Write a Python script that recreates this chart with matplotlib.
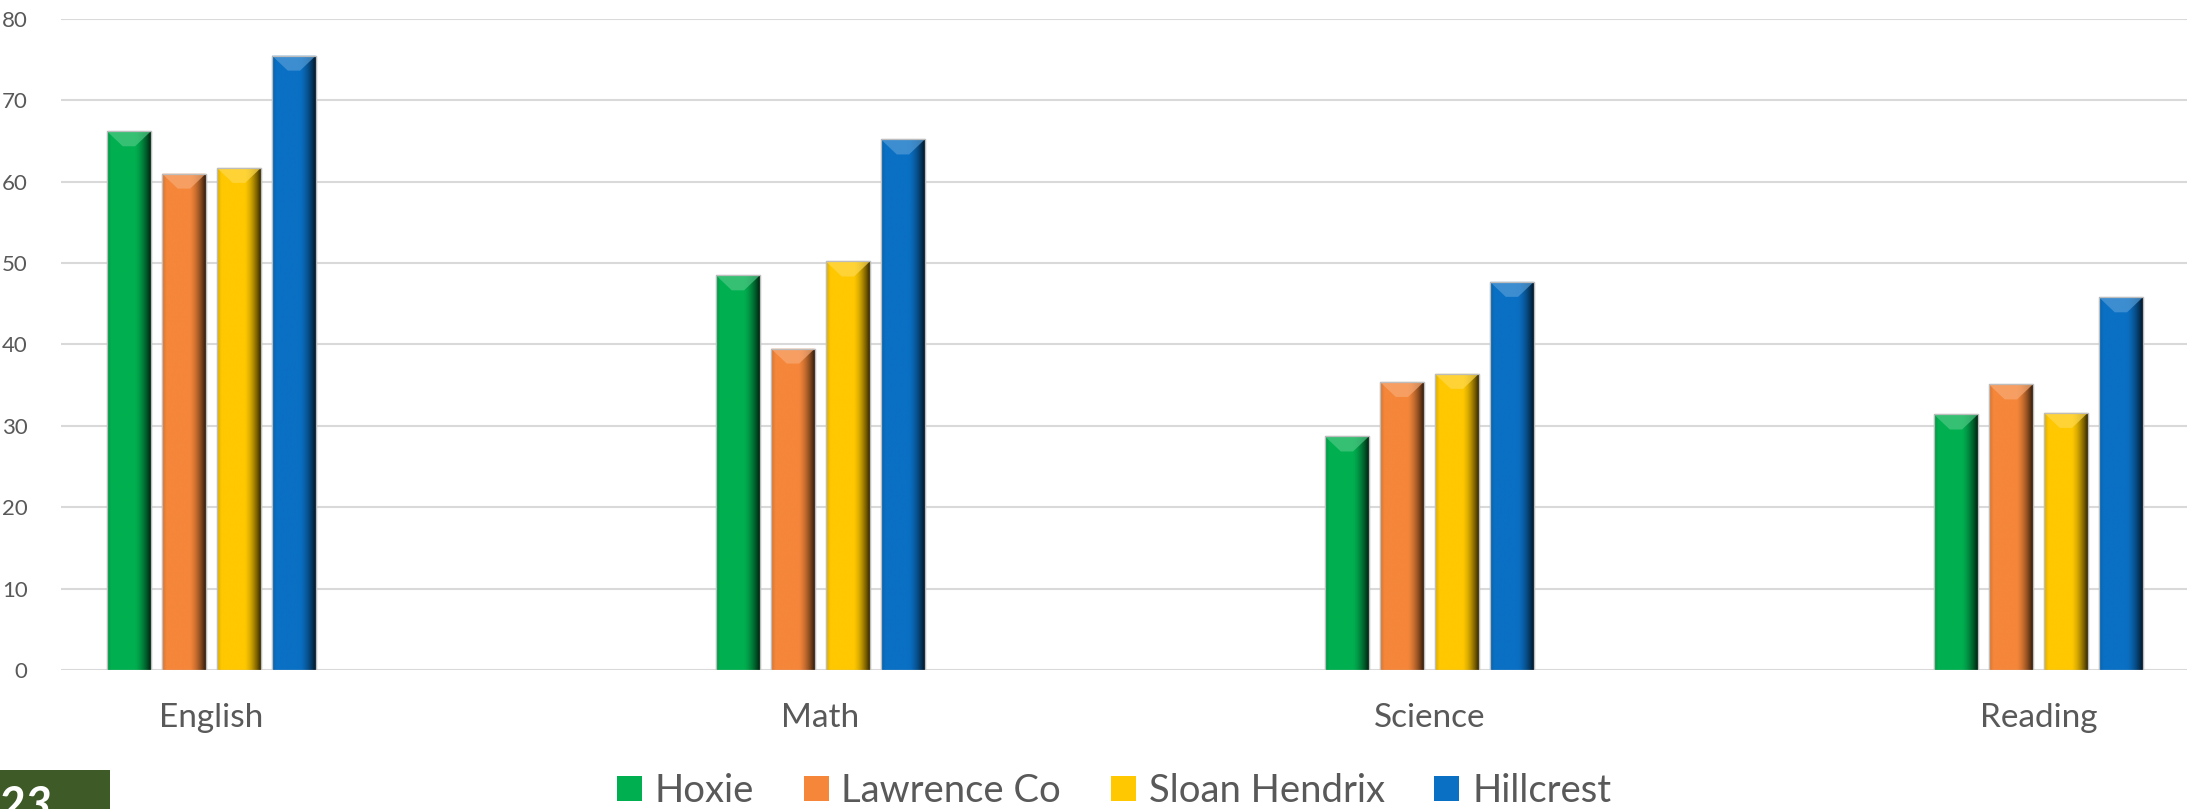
import numpy as np
import matplotlib
matplotlib.use("Agg")
import matplotlib.pyplot as plt
import matplotlib.patches as mpatches

plt.rcParams["font.family"] = ["Lato", "DejaVu Sans"]

subjects = ["English", "Math", "Science", "Reading"]
schools = ["Hoxie", "Lawrence Co", "Sloan Hendrix", "Hillcrest"]
hoxie = [66.2, 48.5, 28.7, 31.4]
lawrence = [61.0, 39.5, 35.4, 35.1]
sloan = [61.7, 50.2, 36.4, 31.6]
hillcrest = [75.5, 65.2, 47.7, 45.8]
series = [hoxie, lawrence, sloan, hillcrest]
colors = ["#00B050", "#F5863A", "#FFC800", "#0A70C4"]
yticks = [0, 10, 20, 30, 40, 50, 60, 70, 80]

W, H = 2187, 809
fig = plt.figure(figsize=(W / 100, H / 100), dpi=100)
fig.patch.set_facecolor("white")
ax = fig.add_axes([61 / W, 139 / H, (W - 61) / W, 651 / H])

x = np.arange(len(subjects))
bw = 0.072
step = 0.0903
offsets = (np.arange(len(schools)) - 1.5) * step


def shade_profile(n=120):
    t = np.linspace(0, 1, n)
    f = np.ones(n)
    left = t < 0.1
    f[left] = 0.86 + 0.14 * t[left] / 0.1
    right = t > 0.62
    f[right] = 1.0 - 0.8 * ((t[right] - 0.62) / 0.38) ** 1.6
    return f


prof = shade_profile()
bevel_px = 15
px_per_unit = 651 / 80.0

for vals, col, off, name in zip(series, colors, offsets, schools):
    bars = ax.bar(x + off, vals, width=bw, color=col, edgecolor="#C8C8C8",
                  linewidth=1.0, zorder=2, label=name)
    base = np.array(matplotlib.colors.to_rgb(col))
    img = np.clip(base[None, None, :] * prof[None, :, None], 0, 1)
    light = np.clip(base + (1 - base) * 0.3, 0, 1)
    for b in bars:
        x0, w, h = b.get_x(), b.get_width(), b.get_height()
        im = ax.imshow(img, extent=(x0, x0 + w, 0, h), aspect="auto",
                       interpolation="bilinear", zorder=2.5)
        im.set_clip_path(b)
        d = bevel_px / px_per_unit
        top = mpatches.Polygon([(x0, h), (x0 + w, h), (x0 + 0.64 * w, h - d),
                                (x0 + 0.36 * w, h - d)], closed=True,
                               facecolor=light, edgecolor="none", alpha=0.7,
                               zorder=2.6)
        ax.add_patch(top)
        ax.add_patch(mpatches.Rectangle((x0, 0), w, h, facecolor="none",
                                        edgecolor="#BDBDBD", linewidth=0.9,
                                        zorder=2.8))

ax.set_xlim(-0.247, 3.244)
ax.set_ylim(0, 80)
ax.set_yticks(yticks)
ax.set_xticks(x)
ax.set_xticklabels(subjects)
ax.grid(axis="y", color="#D9D9D9", linewidth=1.5, zorder=0)
ax.set_axisbelow(True)
for s in ax.spines.values():
    s.set_visible(False)
ax.tick_params(axis="y", length=0, pad=24, labelsize=16, labelcolor="#595959")
ax.tick_params(axis="x", length=0, pad=24, labelsize=24, labelcolor="#595959")

handles = [mpatches.Patch(facecolor=c, edgecolor="none") for c in colors]
fig.legend(handles, schools, loc="center", bbox_to_anchor=(1114 / W, 1 - 791 / H),
           ncol=4, frameon=False, fontsize=27.5, labelcolor="#595959",
           handlelength=0.66, handleheight=0.64, handletextpad=0.33,
           columnspacing=1.3, borderpad=0, borderaxespad=0)

# page-number tab, bottom-left
fig.patches.append(mpatches.Rectangle((0, 0), 110 / W, 39 / H, transform=fig.transFigure,
                                      facecolor="#3D5A27", edgecolor="none"))
fig.text(-3 / W, -12 / H, "23", color="white", fontsize=34, fontweight="bold",
         style="italic", ha="left", va="baseline")

fig.savefig("out.png", dpi=100, facecolor="white")
